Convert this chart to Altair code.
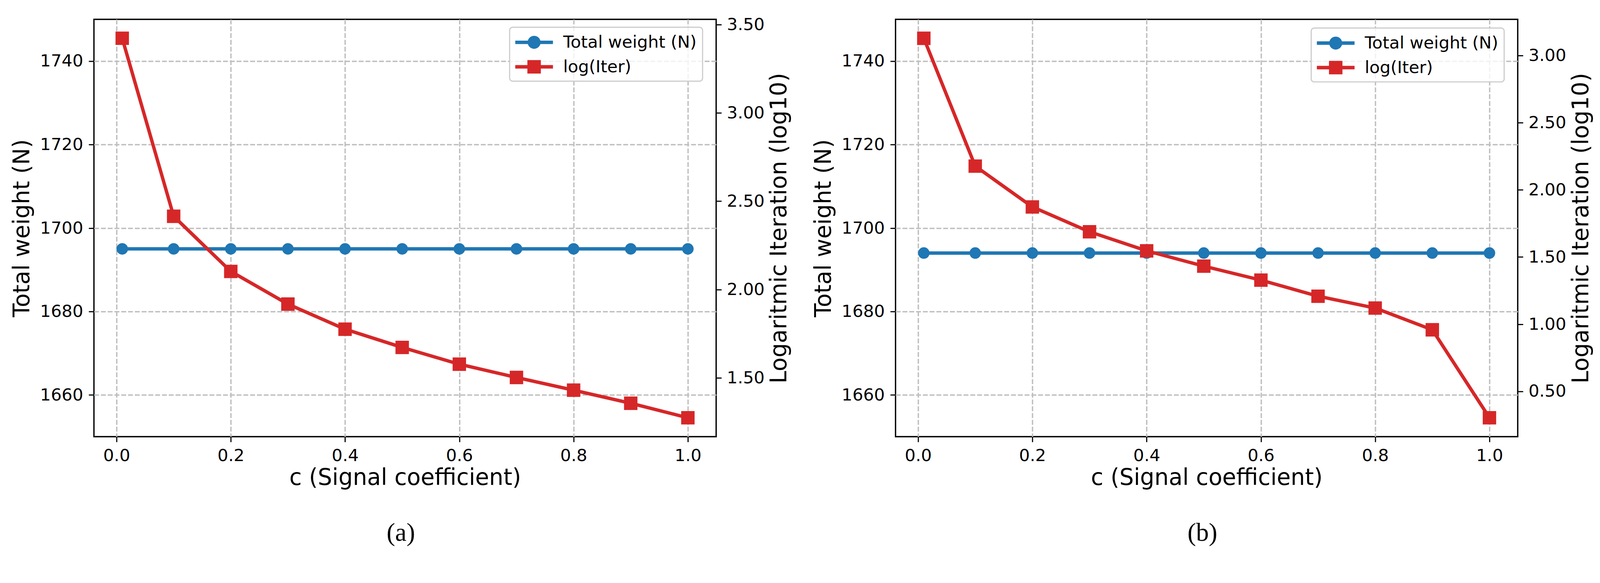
import altair as alt
import pandas as pd

# values
c_vals = [0.01, 0.1, 0.2, 0.3, 0.4, 0.5, 0.6, 0.7, 0.8, 0.9, 1.0]
weight_a = [1695, 1695, 1695, 1695, 1695, 1695, 1695, 1695, 1695, 1695, 1695]
log_iter_a = [3.422, 2.415, 2.103, 1.918, 1.776, 1.673, 1.578, 1.503, 1.431, 1.357, 1.275]
weight_b = [1694, 1694, 1694, 1694, 1694, 1694, 1694, 1694, 1694, 1694, 1694]
log_iter_b = [3.129, 2.177, 1.873, 1.688, 1.546, 1.432, 1.328, 1.208, 1.120, 0.958, 0.303]

series = ["Total weight (N)", "log(Iter)"]
colors = ["#1f77b4", "#d62728"]

x_ticks = [0.0, 0.2, 0.4, 0.6, 0.8, 1.0]
left_ticks = [1660, 1680, 1700, 1720, 1740]
right_ticks_a = [1.5, 2.0, 2.5, 3.0, 3.5]
right_ticks_b = [0.5, 1.0, 1.5, 2.0, 2.5, 3.0]

W, H = 1651, 1107
FONT = "DejaVu Sans"

# legend symbols: short line with the marker on it (filled paths, unit = sqrt(size)/2)
LEG_CIRCLE = "M-2,-0.186H2V0.186H-2ZM0.69,0A0.69,0.69,0,1,1,-0.69,0A0.69,0.69,0,1,1,0.69,0Z"
LEG_SQUARE = "M-2,-0.186H2V0.186H-2ZM-0.715,-0.715H0.715V0.715H-0.715Z"

axis_style = dict(
    labelFont=FONT, labelFontSize=45, labelColor="black",
    tickColor="black", tickWidth=3, tickSize=14,
    titleFont=FONT, titleFontSize=60, titleFontWeight="normal", titleColor="black",
    domain=False, gridColor="#bfbfbf", gridDash=[13, 5], gridWidth=3.6,
)


def make_legend(lx, ly):
    return alt.Legend(
        title=None, orient="none", legendX=lx, legendY=ly, direction="vertical",
        labelFont=FONT, labelFontSize=45, labelColor="black", labelLimit=800,
        labelOffset=52, symbolSize=2500, symbolOffset=25, symbolStrokeWidth=0,
        symbolOpacity=1, rowPadding=17, padding=15, cornerRadius=8,
        fillColor="rgba(255,255,255,0.8)", strokeColor="#cccccc",
    )


def panel(weight, log_iter, right_dom, right_ticks, caption, lx, ly):
    df_w = pd.DataFrame({"c": c_vals, "v": weight})
    df_l = pd.DataFrame({"c": c_vals, "v": log_iter})
    df_key = pd.DataFrame({"s": series})

    x = alt.X("c:Q", title="c (Signal coefficient)",
              scale=alt.Scale(domain=[-0.0395, 1.0495], nice=False, zero=False),
              axis=alt.Axis(values=x_ticks, format=".1f", grid=True, labelPadding=14,
                            titlePadding=8, **axis_style))

    blue = alt.Chart(df_w).mark_line(
        color=colors[0], strokeWidth=9,
        point=alt.OverlayMarkDef(filled=True, shape="circle", size=935, opacity=1, color=colors[0]),
    ).encode(
        x=x,
        y=alt.Y("v:Q", title="Total weight  (N)",
                scale=alt.Scale(domain=[1650, 1750], nice=False, zero=False),
                axis=alt.Axis(values=left_ticks, format="d", grid=True, orient="left",
                              labelPadding=15, titlePadding=16, **axis_style)),
    )

    red = alt.Chart(df_l).mark_line(
        color=colors[1], strokeWidth=9,
        point=alt.OverlayMarkDef(filled=True, shape="square", size=1270, opacity=1, color=colors[1]),
    ).encode(
        x=x,
        y=alt.Y("v:Q", title="Logaritmic Iteration (log10)",
                scale=alt.Scale(domain=right_dom, nice=False, zero=False),
                axis=alt.Axis(values=right_ticks, format=".2f", grid=False, orient="right",
                              labelPadding=14, titlePadding=11, titleAngle=270,
                              titleBaseline="top", **axis_style)),
    )

    # invisible layer that only carries the legend
    key = alt.Chart(df_key).mark_point(filled=True, size=2500, opacity=0).encode(
        color=alt.Color("s:N", scale=alt.Scale(domain=series, range=colors),
                        legend=make_legend(lx, ly)),
        shape=alt.Shape("s:N", scale=alt.Scale(domain=series, range=[LEG_CIRCLE, LEG_SQUARE]),
                        legend=make_legend(lx, ly)),
    )

    return alt.layer(blue, red, key).resolve_scale(y="independent").properties(
        width=W, height=H,
        title=alt.TitleParams(caption, orient="bottom", anchor="middle", frame="bounds",
                              font="Liberation Serif", fontSize=68, fontWeight="normal",
                              color="black", offset=82),
    )


left = panel(weight_a, log_iter_a, [1.168, 3.529], right_ticks_a, "(a)", 1103, 21)
right = panel(weight_b, log_iter_b, [0.162, 3.270], right_ticks_b, "(b)", 1103, 23)

chart = alt.hconcat(left, right, spacing=476, bounds="flush").resolve_scale(
    color="independent", shape="independent"
).resolve_legend(
    color="independent", shape="independent"
).configure(
    background="white", padding={"left": 18, "top": 6, "right": 10, "bottom": 10}
).configure_view(
    stroke="black", strokeWidth=3.5
).configure_legend(
    strokeWidth=3
)

chart.save("out.html", embed_options={"renderer": "svg", "actions": False})
